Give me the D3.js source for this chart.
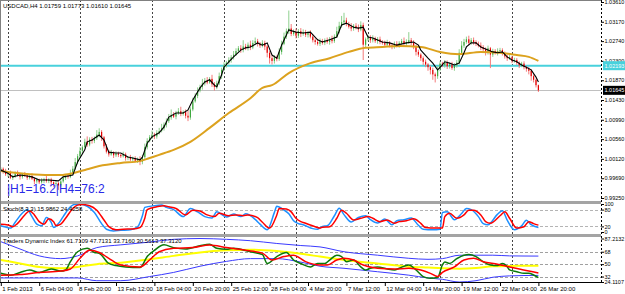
<!DOCTYPE html>
<html>
<head>
<meta charset="utf-8">
<script src="https://cdn.jsdelivr.net/npm/d3@7"></script>
<style>
  body { margin: 0; background: #fff; }
  svg { display: block; font-family: "Liberation Sans", Arial, sans-serif; }
</style>
</head>
<body>
<div id="chart"></div>
<script>
// ---- data (USDCAD H4, 1 Feb - 26 Mar 2013) ----
var firstOpen = 0.9986;
var closes = [
  0.9990,0.9984,0.9978,0.9981,0.9970,0.9974,0.9980,0.9976,0.9972,0.9978,
  0.9975,0.9970,0.9974,0.9968,0.9962,0.9966,0.9960,0.9964,0.9967,0.9963,
  0.9966,0.9960,0.9956,0.9958,0.9953,0.9962,0.9970,0.9974,0.9972,0.9980,
  0.9990,1.0005,1.0018,1.0030,1.0038,1.0050,1.0044,1.0055,1.0052,1.0058,
  1.0066,1.0072,1.0060,1.0040,1.0028,1.0022,1.0026,1.0020,1.0024,1.0021,
  1.0018,1.0022,1.0014,1.0016,1.0011,1.0014,1.0008,1.0012,1.0006,1.0016,
  1.0038,1.0052,1.0060,1.0066,1.0062,1.0070,1.0074,1.0080,1.0088,1.0096,
  1.0104,1.0110,1.0106,1.0114,1.0118,1.0112,1.0116,1.0108,1.0104,1.0122,
  1.0140,1.0152,1.0164,1.0172,1.0180,1.0186,1.0182,1.0190,1.0178,1.0172,
  1.0180,1.0196,1.0210,1.0220,1.0226,1.0232,1.0238,1.0244,1.0252,1.0258,
  1.0254,1.0262,1.0258,1.0266,1.0260,1.0270,1.0274,1.0268,1.0264,1.0270,
  1.0262,1.0248,1.0236,1.0230,1.0238,1.0234,1.0250,1.0268,1.0284,1.0296,
  1.0302,1.0290,1.0294,1.0286,1.0296,1.0290,1.0294,1.0288,1.0292,1.0284,
  1.0276,1.0272,1.0268,1.0274,1.0270,1.0276,1.0272,1.0278,1.0274,1.0284,
  1.0296,1.0308,1.0316,1.0320,1.0312,1.0306,1.0302,1.0308,1.0304,1.0300,
  1.0310,1.0266,1.0278,1.0282,1.0276,1.0280,1.0274,1.0278,1.0272,1.0270,
  1.0266,1.0270,1.0264,1.0262,1.0268,1.0264,1.0270,1.0274,1.0268,1.0272,
  1.0276,1.0270,1.0262,1.0250,1.0244,1.0236,1.0228,1.0222,1.0216,1.0210,
  1.0200,1.0196,1.0212,1.0224,1.0220,1.0226,1.0218,1.0222,1.0214,1.0220,
  1.0226,1.0248,1.0264,1.0272,1.0278,1.0270,1.0276,1.0272,1.0268,1.0264,
  1.0260,1.0256,1.0250,1.0258,1.0244,1.0252,1.0248,1.0252,1.0254,1.0246,
  1.0240,1.0236,1.0238,1.0230,1.0232,1.0226,1.0220,1.0224,1.0216,1.0212,
  1.0208,1.0196,1.0188,1.01759,1.01645
];
// wick lengths in pips above / below the body
var upWick = [
  4,3,6,2,5,3,4,6,2,3,5,4,2,6,3, 4,2,5,3,7,3,4,2,5,3,4,6,3,5,8,
  6,9,5,8,4,7,12,5,6,4,10,8,4,3,5, 4,6,3,5,4,3,6,4,2,5,3,4,3,6,5,
  8,6,5,9,4,6,7,10,5,6,8,12,6,5,7, 10,4,6,12,5,8,6,7,5,10,6,8,4,9,5,
  6,8,5,7,4,6,5,8,6,5,7,14,6,5,9, 6,8,5,4,6,5,3,4,6,5,4,8,7,9,6,
  40,10,6,8,5,7,6,5,4,6,5,4,7,6,5, 4,6,5,8,5,10,9,14,17,6,5,8,4,6,7,
  8,5,4,6,5,7,4,5,6,4,5,7,4,6,5, 6,4,5,8,6,18,5,6,4,5,3,4,5,3,4,
  5,4,6,5,4,6,5,4,6,5,6,8,10,7,6, 8,5,6,4,5,7,5,4,6,3,5,4,6,5,4,
  5,4,6,3,5,4,3,4,5,3,4,3,4,3,1.4
];
var dnWick = [
  3,5,4,6,3,5,4,3,6,4,3,5,4,3,6, 5,4,3,6,4,5,8,6,5,10,4,3,5,4,3,
  4,3,5,4,6,3,5,4,6,5,4,6,8,5,4, 5,3,6,4,5,4,3,6,5,4,6,3,5,8,6,
  4,5,3,4,6,5,4,3,5,6,4,5,3,6,4, 5,4,6,8,5,4,3,5,4,6,5,4,3,6,8,
  5,4,6,3,5,4,6,5,3,4,6,5,4,5,6, 4,5,6,5,4,8,10,12,8,6,5,4,6,3,5,
  6,5,4,6,5,7,4,5,6,4,5,6,4,5,4, 5,4,6,5,4,3,5,4,6,5,4,6,5,4,6,
  4,34,5,4,6,5,4,6,5,4,6,5,4,6,5, 4,5,4,6,5,4,5,6,8,5,6,7,6,8,10,
  12,14,6,5,4,5,6,5,4,6,5,4,3,5,4, 5,4,6,5,4,6,5,8,6,30,5,4,6,5,4,
  5,6,4,5,4,5,6,4,5,6,8,10,6,5,3.5
];
// [bar, price]
var maFast = [[0,0.9987],[3,0.9980],[5,0.9972],[8,0.9976],[11,0.9974],[13,0.9972],[16,0.9965],[20,0.9965],
  [24,0.9963],[26,0.9972],[28,0.9974],[30,0.9976],[32,1.0005],[35,1.0032],[36,1.0050],[38,1.0054],[41,1.0065],
  [43,1.0054],[45,1.0027],[48,1.0025],[50,1.0025],[53,1.0016],[55,1.0014],[58,1.0010],[59,1.0016],[61,1.0047],
  [63,1.0061],[66,1.0070],[68,1.0083],[70,1.0105],[73,1.0114],[76,1.0114],[78,1.0121],[80,1.0143],[83,1.0170],
  [85,1.0183],[87,1.0188],[89,1.0176],[90,1.0172],[92,1.0199],[93,1.0216],[95,1.0228],[97,1.0239],[100,1.0254],
  [102,1.0259],[104,1.0261],[107,1.0270],[109,1.0265],[111,1.0270],[113,1.0243],[115,1.0236],[117,1.0265],
  [120,1.0299],[123,1.0294],[126,1.0292],[129,1.0294],[132,1.0277],[134,1.0272],[137,1.0277],[140,1.0283],
  [142,1.0310],[144,1.0314],[147,1.0305],[149,1.0303],[151,1.0305],[153,1.0283],[155,1.0281],[159,1.0272],
  [162,1.0270],[165,1.0265],[169,1.0270],[172,1.0272],[174,1.0265],[175,1.0254],[178,1.0236],[180,1.0225],
  [182,1.0210],[184,1.0221],[185,1.0228],[187,1.0225],[189,1.0221],[191,1.0225],[193,1.0248],[194,1.0261],
  [196,1.0270],[198,1.0270],[200,1.0261],[203,1.0254],[205,1.0250],[207,1.0248],[209,1.0250],[211,1.0239],
  [213,1.0232],[215,1.0228],[217,1.0221],[219,1.0216],[221,1.0210],[223,1.0194],[224,1.0183]];
var maSlow = [[0,0.9985],[12,0.9978],[25,0.9976],[30,0.9980],[36,0.9989],[41,0.9996],[50,1.0003],[58,1.0007],
  [62,1.0014],[66,1.0021],[72,1.0032],[79,1.0050],[87,1.0081],[95,1.0114],[104,1.0147],[109,1.0170],[113,1.0176],
  [120,1.0203],[129,1.0225],[137,1.0236],[145,1.0250],[152,1.0259],[159,1.0261],[166,1.0263],[175,1.0261],
  [183,1.0250],[191,1.0245],[200,1.0250],[208,1.0248],[215,1.0243],[220,1.0239],[224,1.0230]];
var levelLine = 1.02193;
var bidLine = 1.01645;
var priceTicks = [1.03610,1.03170,1.02740,1.02300,1.01870,1.01430,1.00990,1.00560,1.00120,0.99690,0.99250];

var stochMain = [[0,22],[2,18],[4,14],[6,35],[9,68],[11,80],[13,55],[15,28],[17,22],[19,52],[21,34],[22,16],
  [24,30],[26,55],[29,90],[31,99],[33,99],[36,92],[39,70],[42,30],[44,10],[47,4],[50,6],[54,8],[57,18],[59,58],
  [60,88],[64,94],[67,96],[69,88],[72,80],[76,55],[79,84],[82,72],[85,55],[88,50],[90,72],[94,54],[97,64],
  [100,55],[102,65],[106,45],[108,28],[111,8],[114,70],[115,92],[118,78],[120,65],[122,40],[124,30],[126,26],
  [130,12],[132,10],[134,20],[136,22],[139,58],[141,85],[143,62],[146,36],[149,52],[152,58],[154,44],[157,32],
  [160,46],[163,26],[165,40],[168,44],[171,50],[174,24],[176,10],[180,8],[183,10],[184,70],[186,72],[189,44],
  [192,66],[194,84],[196,80],[199,55],[201,30],[203,26],[207,64],[209,76],[211,42],[214,8],[217,22],[219,42],
  [221,26],[224,15.99]];
var stochSignal = [[0,28],[3,25],[5,19],[7,31],[10,61],[12,75],[14,61],[16,37],[18,28],[20,47],[22,37],[23,23],
  [25,28],[27,49],[30,84],[32,96],[34,98],[37,94],[40,78],[43,43],[45,19],[48,8],[51,10],[55,11],[58,16],[60,49],
  [61,80],[65,90],[68,94],[70,90],[73,84],[77,61],[80,78],[83,75],[86,61],[89,55],[91,67],[95,58],[98,61],
  [101,58],[103,61],[107,51],[109,35],[112,14],[115,61],[116,84],[119,82],[121,72],[123,49],[125,37],[127,31],
  [131,19],[133,14],[134,17],[137,19],[140,49],[142,78],[144,67],[147,43],[150,49],[153,55],[155,49],[158,37],
  [161,43],[164,31],[166,37],[169,40],[172,47],[175,31],[177,16],[181,14],[184,14],[185,55],[187,67],[190,49],
  [193,61],[195,78],[197,78],[200,61],[202,37],[204,31],[208,58],[210,72],[212,49],[215,14],[218,19],[220,37],
  [222,30],[224,24.43]];
var stochLevels = [80, 20];
var stochTicks = [100, 80, 20, 0];

var tdiUp = [[0,82.6],[8,72],[16,62],[25,58],[32,62],[40,74],[50,78],[62,82],[72,86],[83,87.2],[94,86],[104,84],
  [115,80],[125,77],[133,75],[143,68],[157,63],[170,58.5],[178,57],[184,58],[191,62.9],[198,63],[205,63],[212,62],
  [218,61.8],[224,61.71]];
var tdiMid = [[0,56],[8,51],[16,46],[25,44],[32,46],[40,50],[50,52],[62,57],[72,62],[83,67],[94,70],[104,71],
  [115,69],[125,65],[133,61],[143,56],[157,51],[170,46.4],[178,45],[184,44],[191,43.5],[198,44.5],[205,47],
  [212,47.5],[218,47.6],[224,47.71]];
var tdiDn = [[0,30],[8,30],[16,30],[25,30],[32,30],[40,26],[50,26],[62,32],[72,38],[83,47],[94,54],[104,58],
  [115,58],[125,53],[133,47],[143,44],[157,39],[170,34],[178,30],[184,28],[191,24.11],[198,26],[205,31],[212,33],
  [218,33.5],[224,33.72]];
var tdiRsi = [[0,36.7],[4,34],[8,38],[12,41.6],[16,38],[21,43],[25,40],[27,41.6],[29,53.6],[32,68],[36,73],[39,67],
  [41,65.7],[45,51],[48,48],[52,46],[58,45],[61,61],[64,70],[68,78],[72,74],[77,72],[83,76.6],[87,78.7],[90,73],
  [94,71.5],[97,73],[104,68],[109,64],[111,51],[115,61],[119,67],[122,56],[125,51],[129,46],[132,51],[135,51],
  [137,56],[140,63],[142,61],[144,53.6],[147,56],[150,46],[152,41.6],[154,44],[157,46],[161,43],[164,41.6],
  [166,44],[170,48.8],[173,41.6],[176,32],[179,29.5],[182,30.5],[184,48.8],[185,53],[187,51],[190,58],[193,63],
  [195,64],[198,61],[201,53.6],[204,48.8],[207,48],[209,51],[211,46.4],[212,41.6],[215,39],[218,36.7],[220,36.7],
  [222,34.3],[224,30.56]];
var tdiSignal = [[0,34],[8,35],[16,38],[25,40],[29,43],[33,58.5],[37,70],[41,67],[45,58.5],[50,48.8],[58,46],
  [62,56],[66,68],[72,73],[80,74],[87,77.8],[94,74],[102,70],[109,66],[113,56],[118,61],[122,63],[127,53.6],
  [133,48.8],[136,48.8],[140,56],[143,58.5],[147,56],[151,48.8],[157,44],[164,43],[170,44],[175,41.6],[179,36.7],
  [182,32],[184,38],[189,46],[193,56],[197,58.5],[201,53.6],[207,50],[212,46],[216,43],[220,40],[224,37.31]];
var tdiLevels = [68, 50, 32];
var tdiTicks = [87.2132, 68, 50, 32, 24.1107];

var timeLabels = [[0,"1 Feb 2013"],[16,"6 Feb 04:00"],[32,"8 Feb 20:00"],[48,"13 Feb 12:00"],[64,"18 Feb 04:00"],
  [80,"20 Feb 20:00"],[96,"25 Feb 12:00"],[112,"28 Feb 04:00"],[128,"4 Mar 20:00"],[144,"7 Mar 12:00"],
  [160,"12 Mar 04:00"],[176,"14 Mar 20:00"],[192,"19 Mar 12:00"],[208,"22 Mar 04:00"],[224,"26 Mar 20:00"]];
var weekStarts = [3,33,63,93,123,153,183,213];

// ---- layout ----
var W = 625, H = 294, plotR = 601;
var pip = 0.0001;
var tickFont = "5.5px";

var svg = d3.select("#chart").append("svg")
  .attr("width", W).attr("height", H);

svg.append("rect").attr("width", W).attr("height", H).attr("fill", "#fff");

var x = d3.scaleLinear().domain([0, 224]).range([0.8, 538.4]);
var yP = d3.scaleLinear().domain([0.99250, 1.03610]).range([198, 2]);
var yS = d3.scaleLinear().domain([0, 100]).range([232, 204]);
var yT = d3.scaleLinear().domain([24.1107, 87.2132]).range([282, 238.5]);

var defs = svg.append("defs");
defs.append("clipPath").attr("id", "clipMain").append("rect").attr("x", 0).attr("y", 0).attr("width", plotR).attr("height", 201);
defs.append("clipPath").attr("id", "clipStoch").append("rect").attr("x", 0).attr("y", 204).attr("width", plotR).attr("height", 30);
defs.append("clipPath").attr("id", "clipTdi").append("rect").attr("x", 0).attr("y", 237).attr("width", plotR).attr("height", 46);

// level lines in sub windows
svg.selectAll("line.slev").data(stochLevels).enter().append("line")
  .attr("x1", 0).attr("x2", plotR)
  .attr("y1", function(d) { return Math.round(yS(d)) + 0.5; })
  .attr("y2", function(d) { return Math.round(yS(d)) + 0.5; })
  .attr("stroke", "#b4b4b4").attr("stroke-dasharray", "3,2");
svg.selectAll("line.tlev").data(tdiLevels).enter().append("line")
  .attr("x1", 0).attr("x2", plotR)
  .attr("y1", function(d) { return Math.round(yT(d)) + 0.5; })
  .attr("y2", function(d) { return Math.round(yT(d)) + 0.5; })
  .attr("stroke", "#a0a0a0").attr("stroke-dasharray", "3,2");

// vertical grid (week starts)
svg.selectAll("line.vgrid").data(weekStarts).enter().append("line")
  .attr("x1", function(d) { return Math.round(x(d)) + 0.5; })
  .attr("x2", function(d) { return Math.round(x(d)) + 0.5; })
  .attr("y1", 0).attr("y2", 283)
  .attr("stroke", "#444").attr("stroke-dasharray", "2,2");

// horizontal lines in main window
svg.append("line").attr("x1", 0).attr("x2", plotR)
  .attr("y1", Math.round(yP(bidLine)) + 0.5).attr("y2", Math.round(yP(bidLine)) + 0.5)
  .attr("stroke", "#c0c0c0");
svg.append("line").attr("x1", 0).attr("x2", plotR)
  .attr("y1", yP(levelLine)).attr("y2", yP(levelLine))
  .attr("stroke", "#48d1dc").attr("stroke-width", 2);

// candles
var bars = closes.map(function(c, i) {
  var o = i === 0 ? firstOpen : closes[i - 1];
  return { i: i, o: o, c: c,
    h: Math.max(o, c) + upWick[i] * pip,
    l: Math.min(o, c) - dnWick[i] * pip };
});
var gC = svg.append("g").attr("clip-path", "url(#clipMain)");
gC.selectAll("line.wick").data(bars).enter().append("line")
  .attr("x1", function(d) { return x(d.i); })
  .attr("x2", function(d) { return x(d.i); })
  .attr("y1", function(d) { return yP(d.h); })
  .attr("y2", function(d) { return yP(d.l); })
  .attr("stroke", function(d) { return d.c >= d.o ? "#8fd08f" : "#f47a7a"; })
  .attr("stroke-width", 1);
gC.selectAll("rect.body").data(bars).enter().append("rect")
  .attr("x", function(d) { return x(d.i) - 0.6; })
  .attr("width", 1.2)
  .attr("y", function(d) { return yP(Math.max(d.o, d.c)); })
  .attr("height", function(d) { return Math.max(0.8, Math.abs(yP(d.o) - yP(d.c))); })
  .attr("fill", function(d) { return d.c >= d.o ? "#3fa83f" : "#e40000"; });

var line = function(ys, curve) {
  return d3.line().x(function(d) { return x(d[0]); }).y(function(d) { return ys(d[1]); }).curve(curve || d3.curveLinear);
};

gC.append("path").datum(maSlow).attr("d", line(yP, d3.curveMonotoneX))
  .attr("fill", "none").attr("stroke", "#dca21e").attr("stroke-width", 2);
gC.append("path").datum(maFast).attr("d", line(yP))
  .attr("fill", "none").attr("stroke", "#000").attr("stroke-width", 1.1);

// stochastic
var gS = svg.append("g").attr("clip-path", "url(#clipStoch)");
gS.append("path").datum(stochMain).attr("d", line(yS, d3.curveMonotoneX))
  .attr("fill", "none").attr("stroke", "#1e90ff").attr("stroke-width", 1.5);
gS.append("path").datum(stochSignal).attr("d", line(yS, d3.curveMonotoneX))
  .attr("fill", "none").attr("stroke", "#ff0000").attr("stroke-width", 1.5);

// traders dynamic index
var gT = svg.append("g").attr("clip-path", "url(#clipTdi)");
[[tdiUp, "#3a3aff", 1], [tdiDn, "#3a3aff", 1], [tdiMid, "#ffff00", 2], [tdiRsi, "#0a7a0a", 1.5], [tdiSignal, "#ff0000", 1.5]]
  .forEach(function(s) {
    gT.append("path").datum(s[0]).attr("d", line(yT, d3.curveMonotoneX))
      .attr("fill", "none").attr("stroke", s[1]).attr("stroke-width", s[2]);
  });

// window separators and frame
svg.append("rect").attr("x", 0).attr("y", 201).attr("width", plotR).attr("height", 3).attr("fill", "#a4a4a4");
svg.append("rect").attr("x", 0).attr("y", 234).attr("width", plotR).attr("height", 3).attr("fill", "#a4a4a4");
svg.append("line").attr("x1", 0).attr("x2", plotR).attr("y1", 0.5).attr("y2", 0.5).attr("stroke", "#808080");
svg.append("line").attr("x1", 0.5).attr("x2", 0.5).attr("y1", 0).attr("y2", 283).attr("stroke", "#808080");
svg.append("line").attr("x1", 0).attr("x2", plotR).attr("y1", 282.5).attr("y2", 282.5).attr("stroke", "#000");
svg.append("line").attr("x1", plotR + 0.5).attr("x2", plotR + 0.5).attr("y1", 0).attr("y2", 283)
  .attr("stroke", "#000").attr("stroke-dasharray", "2,2");

// right axes
function styleAxis(g) {
  g.select(".domain").remove();
  g.selectAll(".tick line").attr("stroke", "#000");
  g.selectAll(".tick text").attr("x", 3.5).attr("font-size", tickFont)
    .attr("font-family", "'Liberation Sans', Arial, sans-serif").attr("fill", "#000");
}
svg.append("g").attr("transform", "translate(" + plotR + ",0)")
  .call(d3.axisRight(yP).tickValues(priceTicks).tickSize(3).tickFormat(d3.format(".5f")))
  .call(styleAxis);
svg.append("g").attr("transform", "translate(" + plotR + ",0)")
  .call(d3.axisRight(yS).tickValues(stochTicks).tickSize(3).tickFormat(d3.format("d")))
  .call(styleAxis);
svg.append("g").attr("transform", "translate(" + plotR + ",0)")
  .call(d3.axisRight(yT).tickValues(tdiTicks).tickSize(3)
    .tickFormat(function(d) { return Number.isInteger(d) ? d : d.toFixed(4); }))
  .call(styleAxis);

// price labels for the lines
[[levelLine, "#48d1dc", "#fff"], [bidLine, "#000", "#fff"]].forEach(function(p) {
  var yy = yP(p[0]);
  svg.append("rect").attr("x", plotR + 2).attr("y", yy - 4.5).attr("width", 22).attr("height", 9).attr("fill", p[1]);
  svg.append("text").attr("x", plotR + 3.5).attr("y", yy + 2).attr("font-size", tickFont).attr("fill", p[2])
    .text(d3.format(".5f")(p[0]));
});

// time axis
var gX = svg.append("g").attr("transform", "translate(0,283)")
  .call(d3.axisBottom(x).tickValues(timeLabels.map(function(d) { return d[0]; })).tickSize(3)
    .tickFormat(function(d, k) { return timeLabels[k][1]; }));
gX.select(".domain").remove();
gX.selectAll(".tick line").attr("stroke", "#000");
gX.selectAll(".tick text").attr("text-anchor", "start").attr("dx", "1px").attr("y", 3.5)
  .attr("font-size", "6px").attr("font-family", "'Liberation Sans', Arial, sans-serif").attr("fill", "#000");

// window captions
svg.append("text").attr("x", 3).attr("y", 8).attr("font-size", "6px").attr("fill", "#000")
  .text("USDCAD,H4  1.01759 1.01773 1.01610 1.01645");
svg.append("text").attr("x", 3).attr("y", 211).attr("font-size", "6px").attr("fill", "#000")
  .text("Stoch(8,3,3) 15.9862 24.4258");
svg.append("text").attr("x", 3).attr("y", 243).attr("font-size", "6px").attr("fill", "#000")
  .text("Traders Dynamic Index 61.7109 47.7131 33.7160 30.5613 37.3120");
svg.append("text").attr("x", 7).attr("y", 193).attr("font-size", "12px").attr("fill", "#2a2ae8")
  .text("|H1=16.2|H4=76:2");
</script>
</body>
</html>
